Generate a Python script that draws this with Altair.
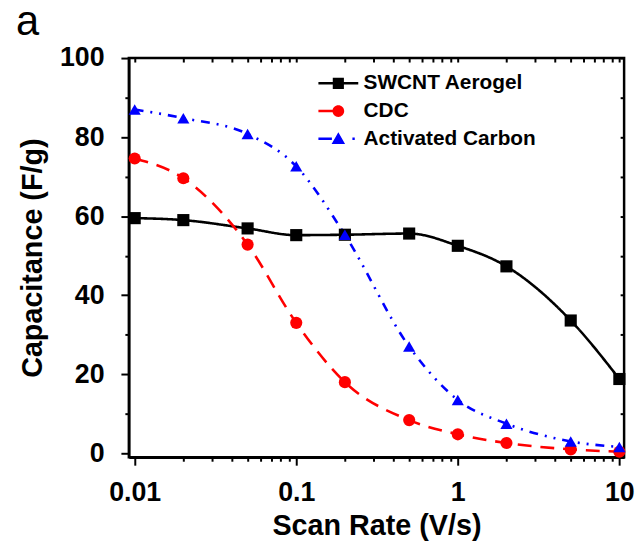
import altair as alt
import pandas as pd

scan_rate = [0.01, 0.02, 0.05, 0.1, 0.2, 0.5, 1, 2, 5, 10]
swcnt = [59.5, 59.0, 56.9, 55.2, 55.3, 55.6, 52.5, 47.3, 33.6, 18.8]
cdc = [74.6, 69.6, 52.8, 33.0, 18.0, 8.4, 4.8, 2.6, 1.0, 0.4]
ac = [87.0, 84.8, 80.8, 72.6, 55.3, 27.0, 13.5, 7.5, 3.0, 1.6]

series = ["SWCNT Aerogel", "CDC", "Activated Carbon"]
colors = ["#000000", "#ff0000", "#0000ff"]
shapes = ["square", "circle", "triangle-up"]
dash_styles = [[1, 0], [14, 9], [9, 7, 2, 7, 2, 7]]

# legend glyphs: line segment + marker (unit-box SVG paths)
legend_glyphs = [
    "M-3.4,-0.22H3.4V0.22H-3.4Z M-0.95,-0.95H0.95V0.95H-0.95Z",
    "M-3.4,-0.22H-0.8V0.22H-3.4Z M-1,0A1,1 0 1,1 1,0A1,1 0 1,1 -1,0Z",
    "M-3.4,-0.22H-1.1V0.22H-3.4Z M0,-1.1L1.15,0.9H-1.15Z M2.4,-0.22H2.8V0.22H2.4Z",
]

x_ticks = [m * 10 ** e for e in (-2, -1, 0) for m in range(1, 10)] + [10]
y_ticks = list(range(0, 101, 10))

rows = []
for name, vals in zip(series, [swcnt, cdc, ac]):
    for x, y in zip(scan_rate, vals):
        rows.append({"rate": x, "cap": y, "series": name})
df = pd.DataFrame(rows)

FONT = "Liberation Sans"
is_major_x = "abs(log(datum.value)/LN10 - round(log(datum.value)/LN10)) < 1e-6"
is_major_y = "datum.value % 20 == 0"

xscale = alt.Scale(type="log", domain=[0.0092, 10.7], nice=False)
yscale = alt.Scale(domain=[-1, 100], nice=False, zero=False)

x_bottom = alt.Axis(
    orient="bottom", values=x_ticks, title="Scan Rate (V/s)",
    labelExpr=f"{is_major_x} ? format(datum.value, '~g') : ''",
    tickSize={"condition": {"test": is_major_x, "value": 8}, "value": 4},
    tickWidth=2, tickColor="black", domainColor="black", domainWidth=2.5,
    labelFont=FONT, labelFontSize=27, labelFontWeight="bold", labelColor="black",
    labelPadding=15, labelFlush=False, labelOverlap=False,
    titleFont=FONT, titleFontSize=29, titleFontWeight="bold", titleColor="black",
    titlePadding=6, grid=False,
)
y_left = alt.Axis(
    orient="left", values=y_ticks, title="Capacitance (F/g)",
    labelExpr=f"{is_major_y} ? datum.label : ''",
    tickSize={"condition": {"test": is_major_y, "value": 8}, "value": 4},
    tickWidth=2, tickColor="black", domainColor="black", domainWidth=2.5,
    labelFont=FONT, labelFontSize=27, labelFontWeight="bold", labelColor="black",
    labelPadding=17, labelFlush=False, labelOverlap=False,
    titleFont=FONT, titleFontSize=29, titleFontWeight="bold", titleColor="black",
    titlePadding=12, grid=False,
)
x_top = alt.Axis(
    orient="top", values=x_ticks, title="", labels=False, domain=False,
    tickSize=4, offset=-4, tickWidth=2, tickColor="black", grid=False,
)
y_right = alt.Axis(
    orient="right", values=y_ticks, title="", labels=False, domain=False,
    tickSize=4, offset=-4, tickWidth=2, tickColor="black", grid=False,
)

color_scale = alt.Scale(domain=series, range=colors)
base = alt.Chart(df)

lines = base.mark_line(strokeWidth=2.6, interpolate="monotone").encode(
    x=alt.X("rate:Q", scale=xscale, axis=x_bottom),
    y=alt.Y("cap:Q", scale=yscale, axis=y_left),
    color=alt.Color("series:N", scale=color_scale, legend=None),
    strokeDash=alt.StrokeDash("series:N", scale=alt.Scale(domain=series, range=dash_styles),
                              legend=None),
)

points = base.mark_point(filled=True, size=150, opacity=1).encode(
    x=alt.X("rate:Q", scale=xscale, axis=None),
    y=alt.Y("cap:Q", scale=yscale, axis=None),
    color=alt.Color("series:N", scale=color_scale, legend=None),
    shape=alt.Shape("series:N", scale=alt.Scale(domain=series, range=shapes), legend=None),
)

legend_props = dict(title=None, orient="none", legendX=201, legendY=15, padding=0,
                    labelFont=FONT, labelFontSize=21, labelFontWeight="bold",
                    labelColor="black", symbolSize=140, rowPadding=6, labelLimit=400,
                    symbolStrokeWidth=0, symbolOpacity=1, labelOffset=15)

legend_layer = base.mark_point(filled=True, opacity=0, size=140).encode(
    x=alt.X("rate:Q", scale=xscale, axis=None),
    y=alt.Y("cap:Q", scale=yscale, axis=None),
    shape=alt.Shape("series:N", scale=alt.Scale(domain=series, range=legend_glyphs),
                    legend=alt.Legend(**legend_props)),
    color=alt.Color("series:N", scale=alt.Scale(domain=series, range=colors),
                    legend=alt.Legend(**legend_props)),
)

frame = base.mark_point(opacity=0).encode(
    x=alt.X("rate:Q", scale=xscale, axis=x_top),
    y=alt.Y("cap:Q", scale=yscale, axis=y_right),
)

chart = alt.layer(lines, points, legend_layer, frame).resolve_axis(
    x="independent", y="independent"
).resolve_scale(shape="independent", color="independent").properties(
    width=500, height=403,
    title=alt.Title("a", anchor="start", frame="group", font=FONT, fontSize=42,
                    fontWeight="normal", color="black", dx=-114, dy=43, offset=10,
                    baseline="alphabetic"),
    autosize=alt.AutoSizeParams(type="none"),
    padding={"left": 122, "top": 48, "right": 11, "bottom": 82},
).configure_view(stroke="black", strokeWidth=2.5)

chart.save("out.html", embed_options={"renderer": "svg", "actions": False})
